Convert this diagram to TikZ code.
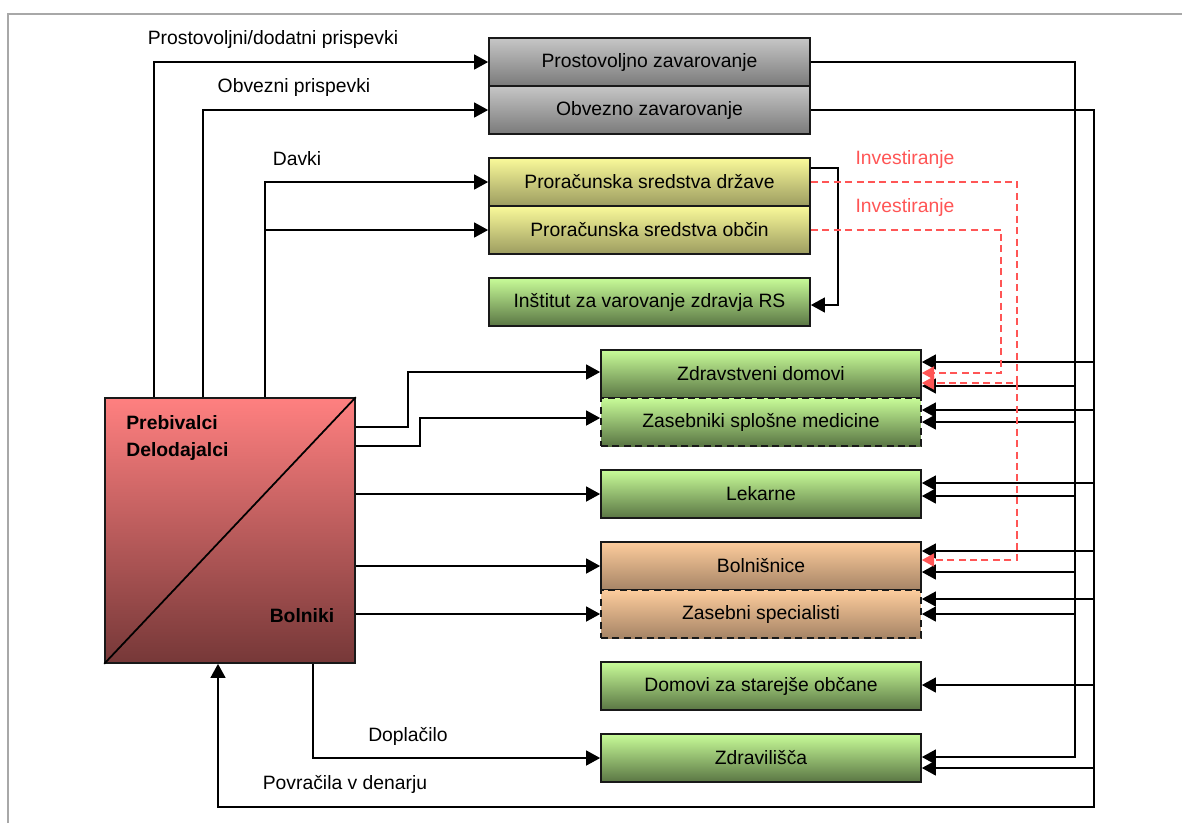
\documentclass[tikz,border=0pt]{standalone}
\usepackage{fontspec}
\setmainfont{Liberation Sans}
\usetikzlibrary{arrows.meta}
\definecolor{framegray}{HTML}{A8A8A8}
\definecolor{invred}{HTML}{FF5555}
\definecolor{gtop}{HTML}{C6C6C6}
\definecolor{gbot}{HTML}{7A7A7A}
\definecolor{ytop}{HTML}{FAFA9A}
\definecolor{ybot}{HTML}{9C9C60}
\definecolor{grtop}{HTML}{C8FC98}
\definecolor{grbot}{HTML}{5A7644}
\definecolor{otop}{HTML}{FDCC9C}
\definecolor{obot}{HTML}{A68466}
\definecolor{rtop}{HTML}{FF8080}
\definecolor{rbot}{HTML}{763838}
\begin{document}
\begin{tikzpicture}[x=0.02cm,y=-0.02cm,
  font=\fontsize{11}{13}\selectfont,
  box/.style={draw=black!90, line width=1pt, minimum height=0.96cm, inner sep=0pt},
  upbox/.style={box, minimum width=6.42cm},
  lobox/.style={box, minimum width=6.4cm},
  grayf/.style={top color=gtop, bottom color=gbot},
  yelf/.style={top color=ytop, bottom color=ybot},
  grnf/.style={top color=grtop, bottom color=grbot},
  orf/.style={top color=otop, bottom color=obot},
  dashbox/.style={dash pattern=on 4pt off 2.5pt},
  arr/.style={line width=1pt, -{Triangle[length=8pt,width=8.5pt]}},
  redarr/.style={draw=invred, line width=0.8pt, dash pattern=on 4pt off 2.5pt,
     -{Triangle[length=7pt,width=7.5pt,fill=invred]}},
  bt/.style={font=\fontsize{11}{13}\selectfont\bfseries, inner sep=0pt},
  lbl/.style={inner sep=0pt}
]
\useasboundingbox (0,0) rectangle (1182,823);
\draw[framegray, line width=1.2pt] (8,823) -- (8,14) -- (1182,14);

% boxes
\node[upbox,grayf] (PZ) at (649.5,62) {Prostovoljno zavarovanje};
\node[upbox,grayf] (OZ) at (649.5,110) {Obvezno zavarovanje};
\node[upbox,yelf] (PSD) at (649.5,182) {Proračunska sredstva države};
\node[upbox,yelf] (PSO) at (649.5,230) {Proračunska sredstva občin};
\node[upbox,grnf] (IVZ) at (649.5,302) {Inštitut za varovanje zdravja RS};
\node[lobox,grnf] (ZD) at (761,374) {Zdravstveni domovi};
\node[lobox,grnf,dashbox] (ZSM) at (761,422) {Zasebniki splošne medicine};
\node[lobox,grnf] (LK) at (761,494) {Lekarne};
\node[lobox,orf] (BO) at (761,566) {Bolnišnice};
\node[lobox,orf,dashbox] (ZS) at (761,614) {Zasebni specialisti};
\node[lobox,grnf] (DS) at (761,686) {Domovi za starejše občane};
\node[lobox,grnf] (ZV) at (761,758) {Zdravilišča};

% big box
\node[box, minimum width=5cm, minimum height=5.3cm, top color=rtop, bottom color=rbot] (BIG) at (230,530.5) {};
\draw[line width=1pt] (BIG.south west) -- (BIG.north east);
\node[bt, anchor=west] (preb) at (126,423) {Prebivalci};
\node[bt, anchor=west] (delo) at (126,451) {Delodajalci};
\node[bt] (boln) at (302,616) {Bolniki};

% labels
\node[lbl] (l1) at (273,39) {Prostovoljni/dodatni prispevki};
\node[lbl] (l2) at (294,87) {Obvezni prispevki};
\node[lbl] (l3) at (297,159) {Davki};
\node[lbl, text=invred] (l4) at (905,159) {Investiranje};
\node[lbl, text=invred] (l5) at (905,207) {Investiranje};
\node[lbl] (l6) at (408,736) {Doplačilo};
\node[lbl] (l7) at (345,784) {Povračila v denarju};

% left connectors
\draw[arr] (BIG.north -| 154,0) |- (PZ.west);
\draw[arr] (BIG.north -| 203,0) |- (OZ.west);
\draw[arr] (BIG.north -| 265,0) |- (PSD.west);
\coordinate (dv) at (265,230);
\draw[arr] (dv) -- (PSO.west);

\draw[arr] (BIG.east |- 0,427) -- (408,427) |- (ZD.west |- 0,372);
\draw[arr] (BIG.east |- 0,446) -- (420,446) |- (ZSM.west |- 0,418);
\draw[arr] (BIG.east |- LK.west) -- (LK.west);
\draw[arr] (BIG.east |- BO.west) -- (BO.west);
\draw[arr] (BIG.east |- ZS.west) -- (ZS.west);
\draw[arr] (BIG.south -| 313,0) |- (ZV.west);

% state budget -> institute
\draw[arr] (PSD.east |- 0,168) -| (838,305) -- (IVZ.east |- 0,305);

% right columns
\coordinate (colA) at (1075,0);
\coordinate (colB) at (1094,0);
\draw[arr] (PZ.east) -| (colA |- 0,757) -- (ZV.east |- 0,757);
\draw[arr] (OZ.east) -| (colB |- 0,768) -- (ZV.east |- 0,768);
\foreach \yy/\tt in {386/ZD,422/ZSM,496/LK,572/BO,614/ZS}
  \draw[arr] (colA |- 0,\yy) -- (\tt.east |- 0,\yy);
\foreach \yy/\tt in {362/ZD,410/ZSM,483/LK,551/BO,599/ZS,685/DS}
  \draw[arr] (colB |- 0,\yy) -- (\tt.east |- 0,\yy);

% reimbursement
\draw[arr] (colB |- 0,768) -- (colB |- 0,807) -| (BIG.south -| 218,0);

% investments
\draw[redarr] (PSD.east) -| (1017,383) -- (ZD.east |- 0,383);
\coordinate (rj) at (1017,383);
\draw[redarr] (rj) -- (1017,560) -- (BO.east |- 0,560);
\draw[redarr] (PSO.east) -| (1001,373) -- (ZD.east |- 0,373);
\end{tikzpicture}
\end{document}
